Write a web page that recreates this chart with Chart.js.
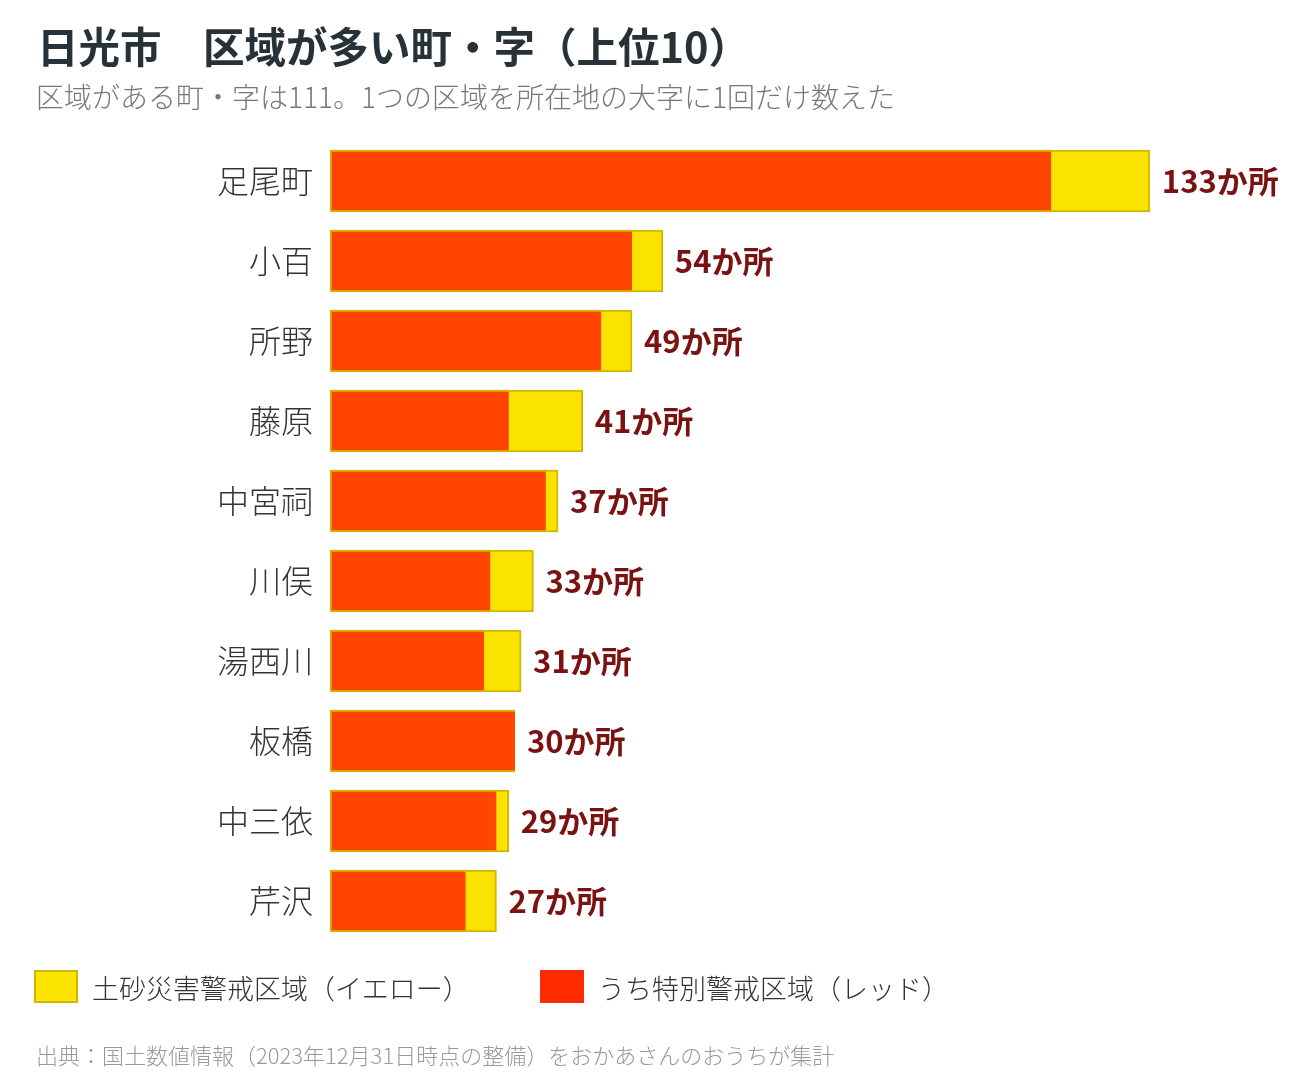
<!DOCTYPE html>
<html lang="ja">
<head>
<meta charset="utf-8">
<script src="https://cdn.jsdelivr.net/npm/chart.js@4.4.1/dist/chart.umd.min.js"></script>
<style>
  body { margin: 0; background: #fff; font-family: "Noto Sans CJK JP", sans-serif; }
  #wrap { position: relative; width: 1300px; height: 1090px; overflow: hidden; }
  #myChart { position: absolute; left: 0; top: 0; }
  .txt { position: absolute; white-space: nowrap; line-height: 1; }
  #title { left: 37px; top: 25px; font-size: 41.5px; font-weight: 700; color: #263238; }
  #subtitle { left: 36px; top: 82px; font-size: 28px; font-weight: 300; color: #777; }
  #footer { left: 36px; top: 1043px; font-size: 22px; font-weight: 300; color: #999; }
  .box { position: absolute; width: 44px; height: 33px; box-sizing: border-box; }
  .lg { font-size: 27px; font-weight: 300; color: #333; }
</style>
</head>
<body>
<div id="wrap">
  <canvas id="myChart" width="1300" height="1090"></canvas>
  <div class="txt" id="title">日光市　区域が多い町・字（上位10）</div>
  <div class="txt" id="subtitle">区域がある町・字は111。1つの区域を所在地の大字に1回だけ数えた</div>
  <div class="box" style="left:34px; top:970px; background:#FAE300; border:2px solid #D0B800;"></div>
  <div class="txt lg" style="left:92px; top:974px;">土砂災害警戒区域（イエロー）</div>
  <div class="box" style="left:540px; top:970px; background:#FF2B00;"></div>
  <div class="txt lg" style="left:598px; top:974px;">うち特別警戒区域（レッド）</div>
  <div class="txt" id="footer">出典：国土数値情報（2023年12月31日時点の整備）をおかあさんのおうちが集計</div>
</div>
<script>
// data
const areas = ["足尾町", "小百", "所野", "藤原", "中宮祠", "川俣", "湯西川", "板橋", "中三依", "芹沢"];
const totalCounts = [133, 54, 49, 41, 37, 33, 31, 30, 29, 27]; // yellow (all zones)
const redCounts = [117, 49, 44, 29, 35, 26, 25, 30, 27, 22];   // of which red (special)

// "NNか所" at the end of each total bar
const valueLabels = {
  id: "valueLabels",
  afterDatasetsDraw(chart) {
    const ctx = chart.ctx;
    const meta = chart.getDatasetMeta(1);
    ctx.save();
    ctx.font = "bold 31px 'Noto Sans CJK JP'";
    ctx.fillStyle = "#7A1212";
    ctx.textAlign = "left";
    ctx.textBaseline = "middle";
    meta.data.forEach((bar, i) => {
      ctx.fillText(totalCounts[i] + "か所", bar.x + 12, bar.y);
    });
    ctx.restore();
  }
};

var ctx = document.getElementById("myChart").getContext("2d");

new Chart(ctx, {
  type: "bar",
  data: {
    labels: areas,
    datasets: [{
        label: "うち特別警戒区域（レッド）",
        data: redCounts,
        backgroundColor: "#FF4500",
        borderColor: "#D0B800",
        borderWidth: { top: 2, bottom: 2, left: 2, right: 0 },
        borderSkipped: false,
        grouped: false,
        barThickness: 62,
      },
      {
        label: "土砂災害警戒区域（イエロー）",
        data: totalCounts,
        backgroundColor: "#FAE300",
        borderColor: "#D0B800",
        borderWidth: 2,
        borderSkipped: false,
        grouped: false,
        barThickness: 62,
      },
    ],
  },
  options: {
    indexAxis: "y",
    responsive: false,
    animation: false,
    layout: {
      padding: { top: 141, bottom: 149, left: 0, right: 107 }
    },
    scales: {
      x: {
        display: false,
        min: 0,
        max: 140,
      },
      y: {
        afterFit(scale) { scale.width = 330; },
        grid: { display: false, drawTicks: false },
        border: { display: false },
        ticks: {
          padding: 17,
          color: "#333",
          font: { family: "Noto Sans CJK JP", size: 32, weight: "300" }
        }
      }
    },
    plugins: {
      legend: { display: false },
      tooltip: { enabled: false }
    }
  },
  plugins: [valueLabels]
});
</script>
</body>
</html>
